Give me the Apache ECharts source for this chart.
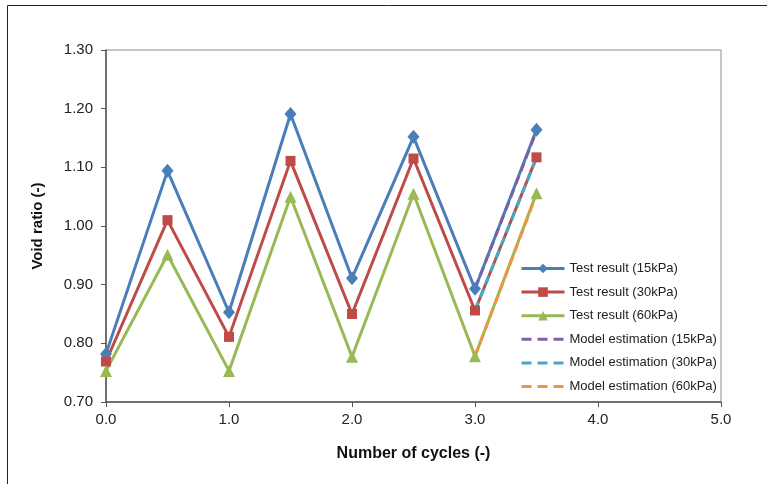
<!DOCTYPE html>
<html>
<head>
<meta charset="utf-8">
<script src="https://cdn.jsdelivr.net/npm/echarts@6/dist/echarts.min.js"></script>
<style>
  html, body { margin: 0; padding: 0; background: #fff; }
  #chart { width: 767px; height: 484px; }
</style>
</head>
<body>
<div id="chart"></div>
<script>
// cycles at which the void ratio was measured
const cycles = [0, 0.5, 1, 1.5, 2, 2.5, 3, 3.5]
const test15 = [0.782, 1.094, 0.853, 1.191, 0.911, 1.152, 0.893, 1.164]
const test30 = [0.769, 1.010, 0.811, 1.111, 0.850, 1.115, 0.856, 1.117]
const test60 = [0.753, 0.951, 0.753, 1.050, 0.777, 1.055, 0.778, 1.056]

// model estimation only covers the last loading step
const modelCycles = [3, 3.5]
const model15 = [0.893, 1.162]
const model30 = [0.856, 1.116]
const model60 = [0.778, 1.054]

const testNames = ['Test result (15kPa)', 'Test result (30kPa)', 'Test result (60kPa)']
const modelNames = ['Model estimation (15kPa)', 'Model estimation (30kPa)', 'Model estimation (60kPa)']

const font = 'Liberation Sans, Arial, sans-serif'

function pairs(xs, ys) {
  return xs.map((x, i) => [x, ys[i]])
}

function testSeries(name, color, symbol, size, ys) {
  return {
    name,
    type: 'line',
    data: pairs(cycles, ys),
    symbol,
    symbolSize: size,
    showSymbol: true,
    lineStyle: { width: 3, color },
    itemStyle: { color },
    animation: false,
  }
}

function modelSeries(name, color, ys) {
  return {
    name,
    type: 'line',
    data: pairs(modelCycles, ys),
    symbol: 'none',
    lineStyle: { width: 3, color, type: [9, 5] },
    itemStyle: { color },
    animation: false,
    z: 3,
  }
}

const chart = echarts.init(document.getElementById('chart'), null, { renderer: 'canvas' })

chart.setOption({
  backgroundColor: '#fff',
  textStyle: { fontFamily: font },
  graphic: [{
    type: 'rect',
    shape: { x: 7.5, y: 5.5, width: 900, height: 700 },
    style: { fill: 'none', stroke: '#222', lineWidth: 1 },
    silent: true,
  }],
  grid: {
    left: 106, right: 46, top: 50, bottom: 82,
    show: true, borderColor: '#8c8c8c', borderWidth: 1,
  },
  legend: {
    orient: 'vertical',
    left: 520,
    top: 262,
    padding: 0,
    itemWidth: 43,
    itemHeight: 12,
    itemGap: 10.6,
    textStyle: { fontSize: 13, color: '#222', fontFamily: font },
    data: testNames.map(name => ({ name, lineStyle: { width: 3 } }))
      .concat(modelNames.map(name => ({
        name,
        itemStyle: { opacity: 0 },
        lineStyle: { width: 3, type: [10, 6] },
      }))),
  },
  xAxis: {
    type: 'value',
    min: 0, max: 5, interval: 1,
    name: 'Number of cycles (-)',
    nameLocation: 'middle',
    nameGap: 44,
    nameTextStyle: { fontSize: 16, fontWeight: 'bold', color: '#111', fontFamily: font },
    axisLine: { lineStyle: { color: '#555', width: 1.5 } },
    axisTick: { show: true, length: 5, lineStyle: { color: '#555' } },
    axisLabel: { fontSize: 15, color: '#222', margin: 10, formatter: v => v.toFixed(1) },
    splitLine: { show: false },
  },
  yAxis: {
    type: 'value',
    min: 0.7, max: 1.3, interval: 0.1,
    name: 'Void ratio (-)',
    nameLocation: 'middle',
    nameGap: 61,
    nameTextStyle: { fontSize: 15, fontWeight: 'bold', color: '#111', fontFamily: font },
    axisLine: { show: true, lineStyle: { color: '#555', width: 1.5 } },
    axisTick: { show: true, length: 5, lineStyle: { color: '#555' } },
    axisLabel: { fontSize: 15, color: '#222', margin: 13, formatter: v => v.toFixed(2) },
    splitLine: { show: false },
  },
  series: [
    testSeries(testNames[0], '#4a7ebb', 'diamond', [12, 14], test15),
    testSeries(testNames[1], '#be4b48', 'rect', 10, test30),
    testSeries(testNames[2], '#98b954', 'triangle', 12, test60),
    modelSeries(modelNames[0], '#7d60a0', model15),
    modelSeries(modelNames[1], '#46aac5', model30),
    modelSeries(modelNames[2], '#f69240', model60),
  ],
})
</script>
</body>
</html>
